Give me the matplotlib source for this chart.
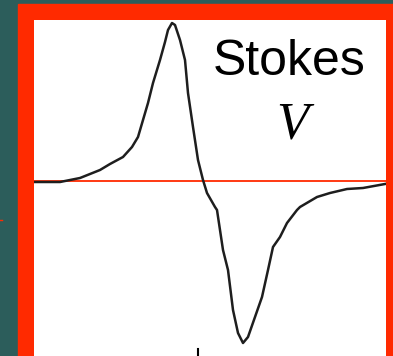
"""
Stokes V profile panel (red frame on teal slide background).
"""
import matplotlib
matplotlib.use("Agg")
import matplotlib.pyplot as plt
from matplotlib.patches import Rectangle

# ── Data (arbitrary wavelength / signal units) ───────────────────────────────
wavelength = [0, 26, 46, 56, 66, 76, 89, 98, 104, 109, 114, 119, 126, 131,
              134, 138, 141, 146, 151, 154, 159, 164, 169, 173, 181, 183,
              189, 194, 199, 204, 209, 214, 221, 228, 234, 239, 246, 253,
              263, 266, 283, 296, 313, 329, 351]
stokes_v = [-1, -1, 3, 7, 11, 17, 24, 34, 44, 61, 78, 98, 121, 139,
            151, 158, 156, 141, 121, 88, 54, 21, 1, -12, -26, -29,
            -69, -89, -129, -152, -162, -156, -136, -116, -89, -66, -56, -42,
            -29, -26, -16, -12, -8, -7, -3]
line_centre = [164]   # small reference tick below the profile

TEAL = "#2c5d5b"
RED = "#ff2a00"

W, H = 393, 356
fig = plt.figure(figsize=(W / 100, H / 100), dpi=100, facecolor=TEAL)

# red frame drawn in its own background axes
bg = fig.add_axes([0, 0, 1, 1], zorder=0)
bg.set_xlim(0, W)
bg.set_ylim(H, 0)
bg.axis("off")
bg.add_patch(Rectangle((18, 4), W - 18, H - 4, color=RED))
bg.plot([0, 2], [220, 220], color=RED, linewidth=1)

ax = fig.add_axes([34 / W, 0, (386 - 34) / W, (H - 20) / H], zorder=1)
ax.set_facecolor("white")
ax.plot(wavelength, stokes_v, color="#1e1e1e", linewidth=1.8,
        solid_joinstyle="round", zorder=3)
ax.axhline(0, color=RED, linewidth=1.3, zorder=2)
for xc in line_centre:
    ax.plot([xc, xc], [-168, -175], color="black", linewidth=1.5)

ax.set_xlim(0, 352)
ax.set_ylim(-175, 161)
ax.set_xticks([])
ax.set_yticks([])
for sp in ax.spines.values():
    sp.set_visible(False)

ax.text(255, 181 - 75, "Stokes", fontsize=36, family="Liberation Sans",
        ha="center", va="baseline", color="black")
ax.text(258, 181 - 138, "V", fontsize=38, family="Liberation Serif",
        style="italic", ha="center", va="baseline", color="black")

plt.savefig("out.png", dpi=100, facecolor=TEAL)
plt.close()
